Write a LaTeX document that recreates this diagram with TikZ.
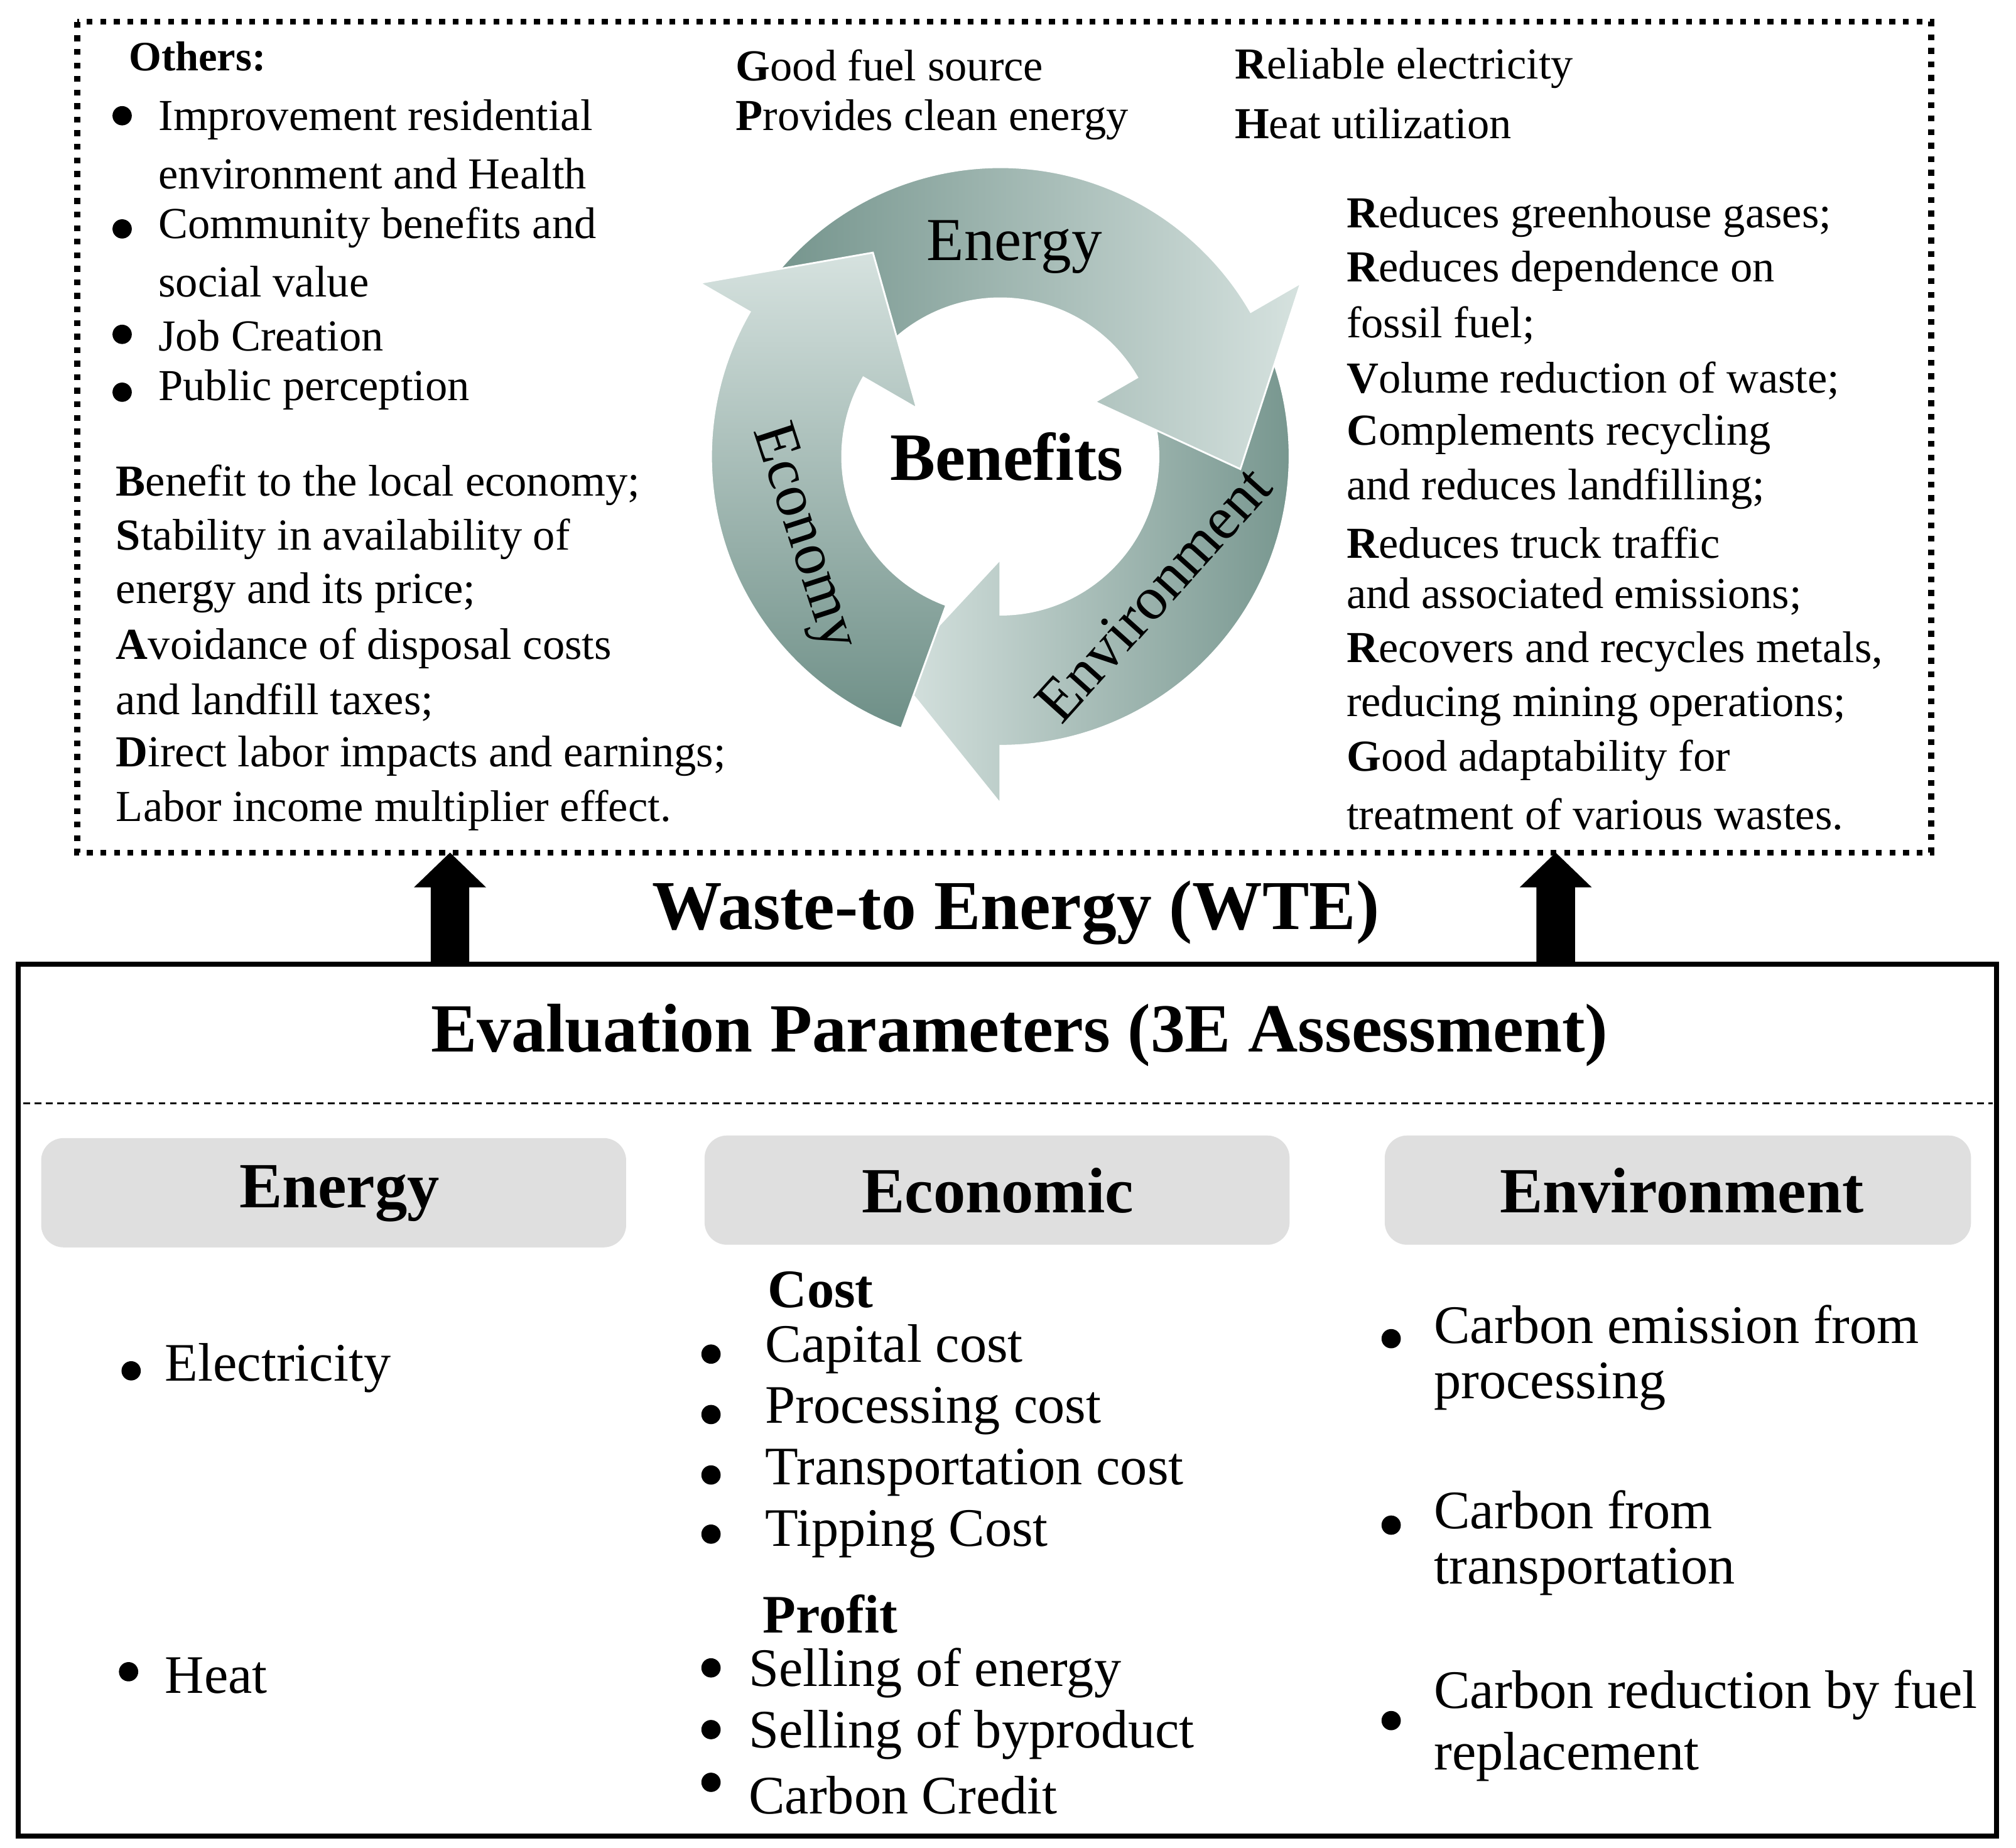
\documentclass[tikz,border=0pt]{standalone}
\usepackage{fontspec}
\setmainfont{Liberation Serif}
\begin{document}
\begin{tikzpicture}[x=0.02cm,y=-0.02cm,
  tl/.style={anchor=west,font=\fontsize{19.6}{22}\selectfont,inner sep=0pt},
  bl/.style={anchor=west,font=\fontsize{24}{28}\selectfont,inner sep=0pt},
  hd/.style={font=\fontsize{28.5}{32}\selectfont\bfseries},
  gbox/.style={fill=gray!25,rounded corners=0.35cm,draw=none},
  dot/.style={circle,fill=black,inner sep=0pt,minimum size=0.3cm},
  ring/.style={draw=white,line width=0.8pt},
  albl/.style={font=\fontsize{27}{30}\selectfont}]
\useasboundingbox (0,0) rectangle (1568,1437);
\coordinate (C) at (778,355);
\definecolor{adark}{HTML}{6E8F87}
\definecolor{alight}{HTML}{D6E2DF}
% dotted box
\draw[line width=2.6pt,dash pattern=on 2.6pt off 3.4pt] (60,17) rectangle (1502,663);
% circular arrows
\fill[ring,left color=alight,right color=adark] ([shift={(C)}]30:4.5cm) arc[start angle=30,end angle=-90,radius=4.5cm] -- ([shift={(C)}]-90:5.4cm) -- ([shift={(C)}]-116:3.74cm) -- ([shift={(C)}]-90:1.6cm) -- ([shift={(C)}]-90:2.46cm) arc[start angle=-90,end angle=30,radius=2.46cm] -- cycle;
\fill[ring,left color=adark,right color=alight] ([shift={(C)}]155:4.5cm) arc[start angle=155,end angle=30,radius=4.5cm] -- ([shift={(C)}]30:5.4cm) -- ([shift={(C)}]-3:3.74cm) -- ([shift={(C)}]30:1.7cm) -- ([shift={(C)}]30:2.46cm) arc[start angle=30,end angle=155,radius=2.46cm] -- cycle;
\fill[ring,top color=alight,bottom color=adark] ([shift={(C)}]-110:4.5cm) arc[start angle=-110,end angle=-210,radius=4.5cm] -- ([shift={(C)}]-210:5.4cm) -- ([shift={(C)}]-238:3.74cm) -- ([shift={(C)}]-210:1.5cm) -- ([shift={(C)}]-210:2.46cm) arc[start angle=-210,end angle=-110,radius=2.46cm] -- cycle;
\node[albl] (lenergy) at (789,192) {Energy};
\node[albl,rotate=48] (lenv) at (897,462) {Environment};
\node[albl,rotate=-72] (lecon) at (624,418) {Economy};
\node[font=\fontsize{30}{34}\selectfont\bfseries] (benefits) at (783,355) {Benefits};
% left top
\node[tl,font=\fontsize{18.5}{20}\selectfont\bfseries] (others) at (100,44) {Others:};
\node[dot] (d1) at (95,90) {}; \node[tl] (t1) at (123,93) {Improvement residential};
\node[tl] (t1b) at (123,135) {environment and Health};
\node[dot] (d2) at (95,178) {}; \node[tl] (t2) at (123,177) {Community benefits and};
\node[tl] (t2b) at (123,219) {social value};
\node[dot] (d3) at (95,260) {}; \node[tl] (t3) at (123,261) {Job Creation};
\node[dot] (d4) at (95,305) {}; \node[tl] (t4) at (123,303) {Public perception};
\node[tl] (e1) at (90,377) {\textbf{B}enefit to the local economy;};
\node[tl] (e2) at (90,419) {\textbf{S}tability in availability of};
\node[tl] (e3) at (90,461) {energy and its price;};
\node[tl] (e4) at (90,504) {\textbf{A}voidance of disposal costs};
\node[tl] (e5) at (90,546) {and landfill taxes;};
\node[tl] (e6) at (90,588) {\textbf{D}irect labor impacts and earnings;};
\node[tl] (e7) at (90,630) {Labor income multiplier effect.};
% middle top
\node[tl] (g1) at (572,51) {\textbf{G}ood fuel source};
\node[tl] (g2) at (572,93) {\textbf{P}rovides clean energy};
\node[tl] (r1) at (960,53) {\textbf{R}eliable electricity};
\node[tl] (r2) at (960,96) {\textbf{H}eat utilization};
% right
\node[tl] (v1) at (1047,169) {\textbf{R}educes greenhouse gases;};
\node[tl] (v2) at (1047,211) {\textbf{R}educes dependence on};
\node[tl] (v3) at (1047,253) {fossil fuel;};
\node[tl] (v4) at (1047,296) {\textbf{V}olume reduction of waste;};
\node[tl] (v5) at (1047,338) {\textbf{C}omplements recycling};
\node[tl] (v6) at (1047,380) {and reduces landfilling;};
\node[tl] (v7) at (1047,422) {\textbf{R}educes truck traffic};
\node[tl] (v8) at (1047,464) {and associated emissions;};
\node[tl] (v9) at (1047,507) {\textbf{R}ecovers and recycles metals,};
\node[tl] (v10) at (1047,549) {reducing mining operations;};
\node[tl] (v11) at (1047,591) {\textbf{G}ood adaptability for};
\node[tl] (v12) at (1047,633) {treatment of various wastes.};
% WTE
\node[font=\fontsize{31}{34}\selectfont\bfseries] (wte) at (790,710) {Waste-to Energy (WTE)};
\fill (335,748) -- (335,690) -- (322,690) -- (350,663) -- (378,690) -- (365,690) -- (365,748) -- cycle;
\fill (1195,748) -- (1195,690) -- (1182,690) -- (1210,663) -- (1238,690) -- (1225,690) -- (1225,748) -- cycle;
% bottom box
\draw[line width=2.2pt] (14,750) rectangle (1553,1428);
\node[font=\fontsize{30.5}{34}\selectfont\bfseries] (eval) at (793,805) {Evaluation Parameters (3E Assessment)};
\draw[dash pattern=on 3pt off 2pt,line width=1pt] (18,858) -- (1550,858);
\fill[gbox] (32,885) rectangle (487,970);
\fill[gbox] (548,883) rectangle (1003,968);
\fill[gbox] (1077,883) rectangle (1533,968);
\node[hd] (h1) at (264,928) {Energy};
\node[hd] (h2) at (776,926) {Economic};
\node[hd] (h3) at (1308,926) {Environment};
% energy col
\node[dot] (b1) at (102,1066) {}; \node[bl] (x1) at (128,1064) {Electricity};
\node[dot] (b2) at (100,1300) {}; \node[bl] (x2) at (128,1303) {Heat};
% economic col
\node[bl,font=\fontsize{24}{28}\selectfont\bfseries] (cost) at (597,1003) {Cost};
\node[dot] (c1) at (553,1053) {}; \node[bl] (y1) at (595,1049) {Capital cost};
\node[dot] (c2) at (553,1100) {}; \node[bl] (y2) at (595,1097) {Processing cost};
\node[dot] (c3) at (553,1147) {}; \node[bl] (y3) at (595,1145) {Transportation cost};
\node[dot] (c4) at (553,1193) {}; \node[bl] (y4) at (595,1193) {Tipping Cost};
\node[bl,font=\fontsize{24}{28}\selectfont\bfseries] (profit) at (593,1255) {Profit};
\node[dot] (p1) at (553,1297) {}; \node[bl] (z1) at (582,1301) {Selling of energy};
\node[dot] (p2) at (553,1345) {}; \node[bl] (z2) at (582,1349) {Selling of byproduct};
\node[dot] (p3) at (553,1386) {}; \node[bl] (z3) at (582,1396) {Carbon Credit};
% environment col
\node[dot] (n1) at (1082,1041) {}; \node[bl] (w1) at (1115,1030) {Carbon emission from};
\node[bl] (w1b) at (1115,1078) {processing};
\node[dot] (n2) at (1082,1186) {}; \node[bl] (w2) at (1115,1174) {Carbon from};
\node[bl] (w2b) at (1115,1222) {transportation};
\node[dot] (n3) at (1082,1338) {}; \node[bl] (w3) at (1115,1318) {Carbon reduction by fuel};
\node[bl] (w3b) at (1115,1366) {replacement};
\end{tikzpicture}
\end{document}
